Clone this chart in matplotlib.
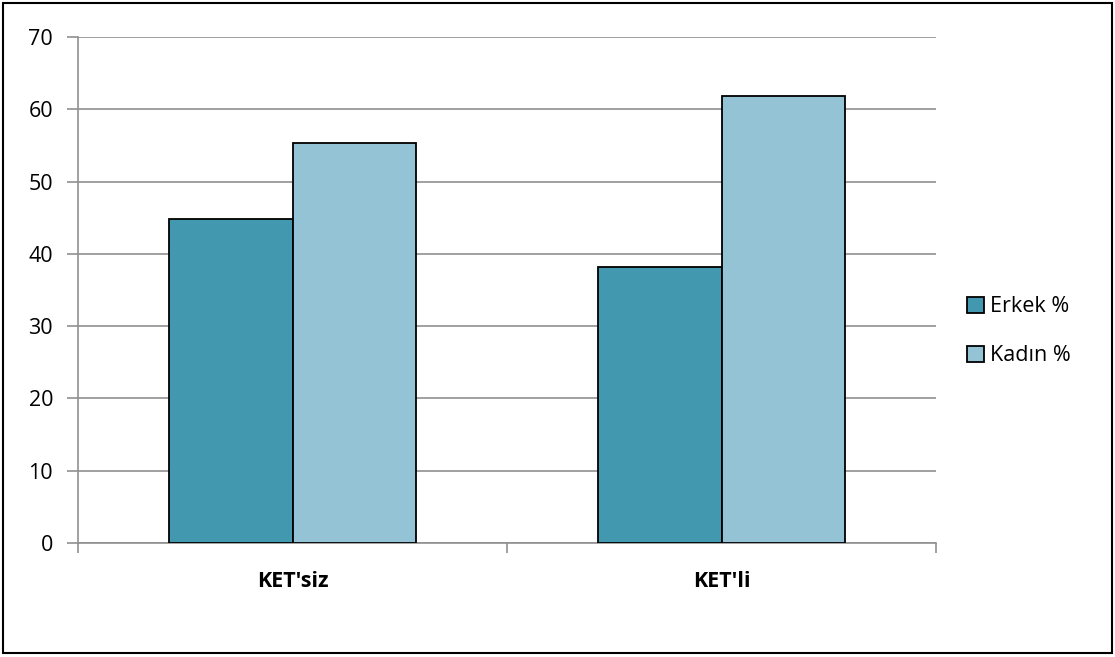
import numpy as np
import matplotlib
matplotlib.use('Agg')
import matplotlib.pyplot as plt
from matplotlib.patches import Rectangle

categories = ["KET'siz", "KET'li"]
series_names = ['Erkek %', 'Kadın %']
erkek = [44.8, 38.2]
kadin = [55.3, 61.8]
y_ticks = [0, 10, 20, 30, 40, 50, 60, 70]

colors = ['#4198AF', '#93C3D5']
grid_col = '#909090'

plt.rcParams['font.family'] = ['Open Sans', 'DejaVu Sans']

fig = plt.figure(figsize=(11.15, 6.57), dpi=100)
ax = fig.add_axes([78 / 1115, 1 - 543 / 657, (936 - 78) / 1115, (543 - 37) / 657])

x = np.arange(len(categories))
w = 0.287
ax.bar(x - w / 2, erkek, w, color=colors[0], edgecolor='black', linewidth=1.3,
       label=series_names[0], zorder=3)
ax.bar(x + w / 2, kadin, w, color=colors[1], edgecolor='black', linewidth=1.3,
       label=series_names[1], zorder=3)

ax.set_xlim(-0.5, len(categories) - 0.5)
ax.set_ylim(0, 70)
ax.set_yticks(y_ticks)
ax.set_xticks(x)
ax.set_xticklabels(categories, fontsize=15.5, fontweight='bold')
ax.set_xticks(np.arange(-0.5, len(categories), 1.0), minor=True)
ax.tick_params(axis='x', which='major', length=0, pad=20)
ax.tick_params(axis='x', which='minor', length=7, color=grid_col, width=1.2, direction='out')
ax.tick_params(axis='y', length=8, color=grid_col, width=1.2, labelsize=15.5, pad=10)

ax.yaxis.grid(True, color=grid_col, linewidth=1.2, zorder=0)
ax.set_axisbelow(True)
for s in ['top', 'right']:
    ax.spines[s].set_visible(False)
for s in ['left', 'bottom']:
    ax.spines[s].set_color(grid_col)
    ax.spines[s].set_linewidth(1.2)

leg = ax.legend(loc='upper left', bbox_to_anchor=(948 / 1115, 1 - 277 / 657),
                bbox_transform=fig.transFigure, frameon=False, fontsize=15.5,
                handlelength=0.75, handleheight=0.75, handletextpad=0.3, labelspacing=1.3)

fig.patches.append(Rectangle((3 / 1115, 4 / 657), 1109 / 1115, 650 / 657,
                             transform=fig.transFigure, fill=False,
                             edgecolor='black', linewidth=1.5))

fig.savefig('out.png', dpi=100)
